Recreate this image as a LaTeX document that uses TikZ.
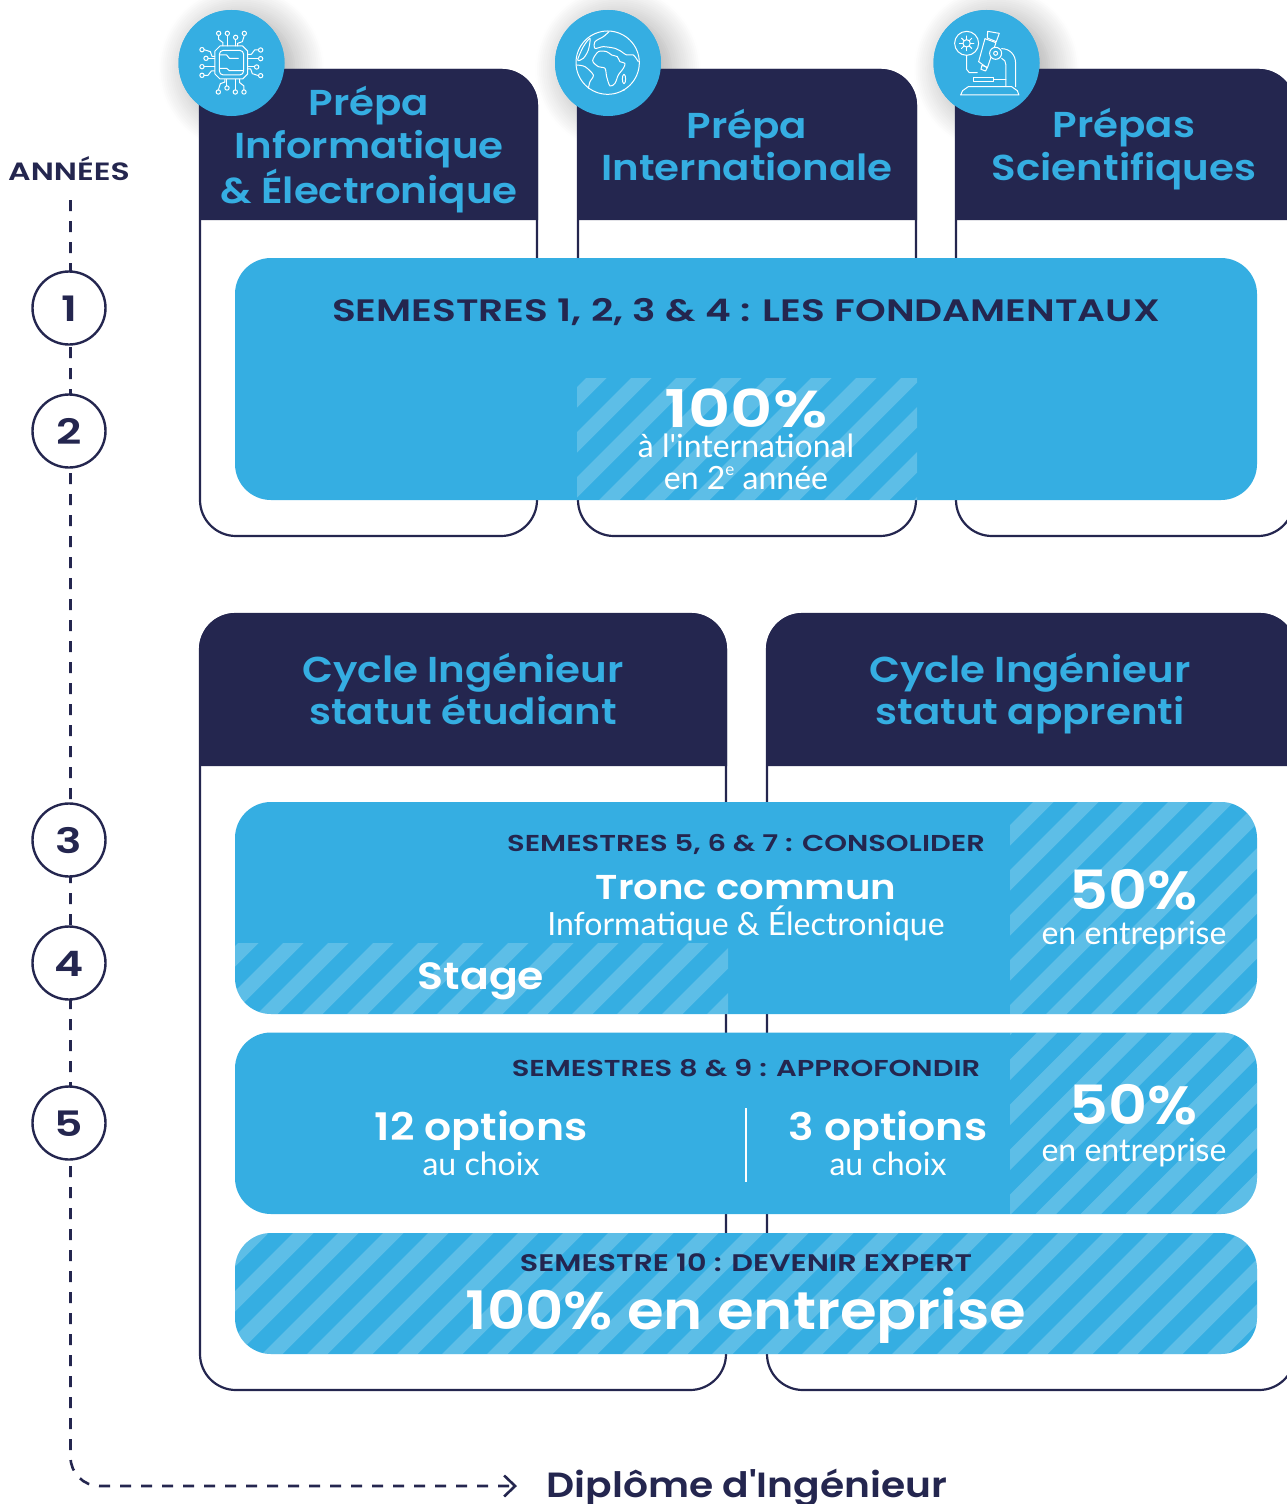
\documentclass[tikz,border=0pt]{standalone}
\usepackage{fontspec}
\usetikzlibrary{arrows.meta,shadows.blur}
\setmainfont{Lato}
\newfontfamily\bodyfont{Lato}
\newfontfamily\displayfont[FakeStretch=1.12,BoldFont={Poppins SemiBold}]{Poppins}
\newfontfamily\widefont[FakeStretch=1.26,BoldFont={Poppins SemiBold}]{Poppins}
\definecolor{prepanavy}{HTML}{24264F}
\definecolor{prepablue}{HTML}{35AEE2}

\tikzset{
    card/.style={draw=prepanavy, line width=2.2pt, fill=white, rounded corners=36pt, anchor=north west, inner sep=0pt, outer sep=0pt},
    panel/.style={fill=prepablue, rounded corners=36pt, anchor=north west, inner sep=0pt, outer sep=0pt},
    badge/.style={circle, fill=prepablue, minimum size=106pt, inner sep=0pt, outer sep=0pt},
    badgeshadow/.style={blur shadow={shadow xshift=10pt, shadow yshift=-6pt, shadow blur steps=16, shadow blur radius=30pt, shadow opacity=35}},
    yearstep/.style={circle, draw=prepanavy, line width=2.4pt, fill=white, minimum size=73pt, inner sep=0pt, outer sep=0pt, text=prepanavy, font=\widefont\bfseries\fontsize{35}{35}\selectfont},
    headtitle/.style={align=center, text=prepablue, font=\displayfont\bfseries\fontsize{36}{42.5}\selectfont},
    semtitle/.style={text=prepanavy, font=\widefont\bfseries\fontsize{23}{23}\selectfont},
    bigfig/.style={text=white, font=\displayfont\bfseries\fontsize{54}{54}\selectfont},
    midfig/.style={align=center, text=white, font=\displayfont\bfseries\fontsize{38}{38}\selectfont},
    bodytxt/.style={align=center, text=white, font=\bodyfont\fontsize{32}{32}\selectfont},
    icon/.style={draw=white, line width=1pt, line join=round, line cap=round},
    stripe/.style={fill=white, fill opacity=0.2}
}

% #1 #2 panel corners, #3 #4 zone corners, #5 stripe phase
\newcommand{\hatchzone}[5]{%
    \begin{scope}
        \clip[rounded corners=36pt] #1 rectangle #2;
        \clip #3 rectangle #4;
        \foreach \k in {0,...,65} {
            \pgfmathsetmacro{\s}{#5+45*\k}
            \fill[stripe] ({\s},0) -- ({\s+20.5},0) -- ({\s+20.5-1504},1504) -- ({\s-1504},1504) -- cycle;
        }
    \end{scope}%
}
% #1 x left, #2 y top, #3 x right, #4 y bottom
\newcommand{\headbox}[4]{%
    \fill[prepanavy] (#1,#4) [rounded corners=36pt] -- (#1,#2) -- (#3,#2) [sharp corners] -- (#3,#4) -- cycle;%
}
\newcommand{\yeardigit}[1]{\raisebox{-13.5pt}[0pt][0pt]{#1}}

\begin{document}
\begin{tikzpicture}[x=1pt,y=-1pt]
    \useasboundingbox (0,0) rectangle (1287,1504);

    % shadows first, they go under the header bands
    \node[badge, badgeshadow] (shadow1) at (231.5,63) {};
    \node[badge, badgeshadow] (shadow2) at (608,63) {};
    \node[badge, badgeshadow] (shadow3) at (986.5,63) {};

    % prepa cards
    \node[card, minimum width=337pt, minimum height=466pt] (prepa1) at (200,70) {};
    \node[card, minimum width=338pt, minimum height=466pt] (prepa2) at (578,70) {};
    \node[card, minimum width=338pt, minimum height=466pt] (prepa3) at (956,70) {};
    \headbox{199}{69}{538}{220}
    \headbox{577}{69}{917}{220}
    \headbox{955}{69}{1295}{220}

    % cycle cards
    \node[card, minimum width=526pt, minimum height=776pt] (cycle1) at (200,614) {};
    \node[card, minimum width=528pt, minimum height=776pt] (cycle2) at (767,614) {};
    \headbox{199}{613}{727}{766}
    \headbox{766}{613}{1296}{766}

    % badges
    \node[badge] (badge1) at (231.5,63) {};
    \node[badge] (badge2) at (608,63) {};
    \node[badge] (badge3) at (986.5,63) {};

    % chip
    \begin{scope}[shift={(170,0)},x=0.3333pt,y=-0.3333pt]
        \draw[icon] (150,138) -- (218,138) -- (233,153) -- (233,222) -- (218,237) -- (150,237) -- (135,222) -- (135,153) -- cycle;
        \draw[icon, rounded corners=4pt] (148,151) rectangle (221,225);
        \draw[icon] (150,165) -- (170,165) -- (178,175) -- (205,175);
        \draw[icon] (150,205) -- (170,205) -- (178,212) -- (220,212);
        \foreach \a in {0,90,180,270} {
            \begin{scope}[rotate around={\a:(184,188)}]
                \draw[icon] (146,106) -- (146,118) -- (159,128) -- (159,138);
                \draw[icon] (172,106) -- (172,138);
                \draw[icon] (197,118) -- (197,138);
                \draw[icon] (223,106) -- (217,125) -- (203,130) -- (203,138);
                \draw[icon] (146,100) circle (6.5);
                \draw[icon] (172,100) circle (6.5);
                \draw[icon] (197,112) circle (6.5);
                \draw[icon] (223,100) circle (6.5);
            \end{scope}
        }
    \end{scope}

    % globe
    \begin{scope}[shift={(540,0)},x=0.3333pt,y=-0.3333pt]
        \draw[icon] (203,188) circle (95);
        \draw[icon] plot[smooth cycle, tension=0.5] coordinates {(158,182) (175,155) (200,155) (215,165) (232,170) (240,185) (255,190) (250,205) (235,225) (225,250) (210,258) (200,230) (195,205) (175,200)};
        \draw[icon] plot[smooth, tension=0.5] coordinates {(207,95) (190,110) (165,125) (165,145) (190,140) (225,145) (240,152) (260,165) (280,165) (295,185)};
        \draw[icon] plot[smooth cycle, tension=0.5] coordinates {(150,115) (130,140) (113,180) (130,175) (145,150)};
        \draw[icon] plot[smooth, tension=0.5] coordinates {(110,195) (135,200) (160,225) (150,245) (145,265)};
        \draw[icon] (252,237) ellipse (5 and 14);
        \draw[icon] (248,271) -- (253,270);
    \end{scope}

    % microscope
    \begin{scope}[shift={(540,0)},x=0.3333pt,y=-0.3333pt]
        \draw[icon] (1280,130) circle (36);
        \draw[icon] (1280,130) circle (11);
        \foreach \a in {0,45,...,315} {
            \draw[icon] (1280,130) ++(\a:11) -- ++(\a:11);
        }
        \draw[icon] (1280,166) -- (1280,208) -- (1288,218) -- (1312,218);
        \draw[icon] (1262,285) -- (1437,285) -- (1432,272) -- (1415,260) -- (1285,260) -- (1268,272) -- cycle;
        \draw[icon] (1302,232) rectangle (1360,245);
        \draw[icon] (1360,238) -- (1398,238);
        \draw[icon] (1385,146) .. controls (1410,146) and (1427,165) .. (1427,190) -- (1427,260);
        \draw[icon] (1385,175) .. controls (1393,178) and (1398,185) .. (1398,195) -- (1398,260);
        \draw[icon] (1335,116) -- (1368,128) -- (1342,204) -- (1316,185) -- cycle;
        \draw[icon] (1343,94) -- (1378,100) -- (1369,125) -- (1342,114) -- cycle;
        \draw[icon] (1326,196) -- (1342,202) -- (1337,213) -- (1323,208) -- cycle;
        \draw[icon, fill=prepablue] (1367,160) circle (18);
        \draw[icon] (1367,160) circle (6);
    \end{scope}

    % head titles
    \node[headtitle] (titre1) at (369,149.5) {Prépa\\Informatique\\\& Électronique};
    \node[headtitle] (titre2) at (747,145) {Prépa\\Internationale};
    \node[headtitle] (titre3) at (1124,149) {Prépas\\Scientifiques};
    \node[headtitle] (titre4) at (463,689) {Cycle Ingénieur\\statut étudiant};
    \node[headtitle] (titre5) at (1030,693.5) {Cycle Ingénieur\\statut apprenti};

    % blue panels
    \node[panel, minimum width=1022pt, minimum height=242pt] (fonda) at (235,258) {};
    \node[panel, minimum width=1022pt, minimum height=212pt] (consol) at (235,802) {};
    \node[panel, minimum width=1022pt, minimum height=181.5pt] (appro) at (235,1032.5) {};
    \node[panel, minimum width=1022pt, minimum height=121pt] (expert) at (235,1233) {};

    \hatchzone{(235,258)}{(1257,500)}{(577,378)}{(917,500)}{19}
    \hatchzone{(235,802)}{(1257,1014)}{(1010,802)}{(1257,1014)}{35}
    \hatchzone{(235,802)}{(1257,1014)}{(235,943)}{(728,1014)}{11}
    \hatchzone{(235,1032.5)}{(1257,1214)}{(1010,1032.5)}{(1257,1214)}{44.5}
    \hatchzone{(235,1233)}{(1257,1354)}{(235,1233)}{(1257,1354)}{41}

    % panel texts
    \node[semtitle, font=\widefont\bfseries\fontsize{31}{31}\selectfont] (sem14) at (746,312) {SEMESTRES 1, 2, 3 \& 4 : LES FONDAMENTAUX};
    \node[bigfig, font=\widefont\bfseries\fontsize{52}{52}\selectfont] (cent) at (746,408) {100\%};
    \node[bodytxt] (inter) at (746,462) {à l'international\\en 2\raisebox{0.45em}{\fontsize{17}{17}\selectfont e} année};

    \node[semtitle] (sem57) at (746,844) {SEMESTRES 5, 6 \& 7 : CONSOLIDER};
    \node[midfig, font=\displayfont\bfseries\fontsize{34.5}{34.5}\selectfont] (tronc) at (746,888) {Tronc commun};
    \node[bodytxt] (infoelec) at (746,923) {Informatique \& Électronique};
    \node[midfig] (stage) at (481,981) {Stage};
    \node[bigfig] (cinq1) at (1134,890) {50\%};
    \node[bodytxt] (entr1) at (1134,936) {en entreprise};

    \node[semtitle] (sem89) at (746,1068) {SEMESTRES 8 \& 9 : APPROFONDIR};
    \node[midfig] (opt12) at (481,1131) {12 options};
    \node[bodytxt] (choix12) at (481,1164) {au choix};
    \node[midfig] (opt3) at (888,1131) {3 options};
    \node[bodytxt] (choix3) at (888,1164) {au choix};
    \coordinate (septop) at (746,1108);
    \coordinate (sepbot) at (746,1182);
    \draw[white, line width=2pt] (septop) -- (sepbot);
    \node[bigfig] (cinq2) at (1134,1105) {50\%};
    \node[bodytxt] (entr2) at (1134,1153) {en entreprise};

    \node[semtitle, font=\widefont\bfseries\fontsize{24}{24}\selectfont] (sem10) at (746,1263) {SEMESTRE 10 : DEVENIR EXPERT};
    \node[bigfig, font=\displayfont\bfseries\fontsize{53}{53}\selectfont] (toutentr) at (746,1316) {100\% en entreprise};

    % years line
    \node[text=prepanavy, font=\widefont\bfseries\fontsize{25}{25}\selectfont] (annees) at (69,169) {ANNÉES};
    \node[text=prepanavy, font=\displayfont\bfseries\fontsize{35}{35}\selectfont, anchor=base west] (diplome) at (543,1497) {Diplôme d'Ingénieur};
    \coordinate (linetop) at (70.5,200);
    \coordinate (linecorner) at (70.5,1486);
    \coordinate (lineend) at (517,1486);
    \draw[prepanavy, line width=2.6pt, dash pattern=on 11pt off 10pt, rounded corners=29pt, -{Straight Barb[length=11pt,width=21pt,line width=2.6pt]}] (linetop) -- (linecorner) -- (lineend);

    \node[yearstep] (an1) at (69,308) {\yeardigit{1}};
    \node[yearstep] (an2) at (69,431) {\yeardigit{2}};
    \node[yearstep] (an3) at (69,840) {\yeardigit{3}};
    \node[yearstep] (an4) at (69,963) {\yeardigit{4}};
    \node[yearstep] (an5) at (69,1123) {\yeardigit{5}};
\end{tikzpicture}
\end{document}
